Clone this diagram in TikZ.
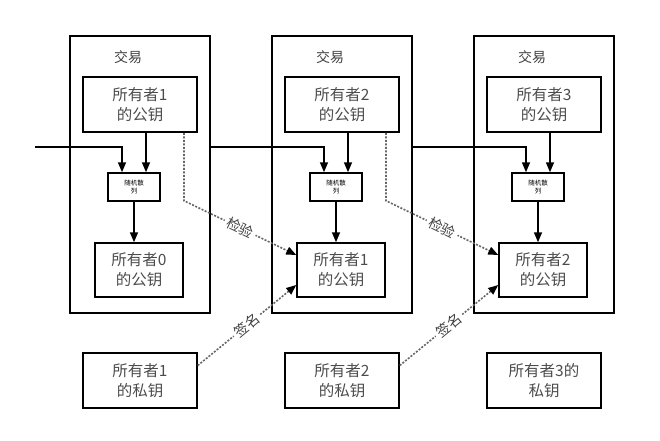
\documentclass[tikz,border=0pt]{standalone}
\usepackage{fontspec}
\setmainfont{Noto Sans CJK SC}
\usetikzlibrary{arrows.meta, positioning}

\tikzset{
	frame/.style={draw, line width=1.5pt, minimum width=140pt, minimum height=277pt, inner sep=0pt},
	keybox/.style={draw, line width=1.5pt, minimum width=114pt, minimum height=55pt, inner sep=0pt,
		align=center, text=black!70, font=\fontsize{15.5}{20}\selectfont},
	prevbox/.style={keybox, minimum width=88pt, minimum height=54pt},
	hashbox/.style={draw, line width=1.5pt, minimum width=52pt, minimum height=28pt, inner sep=0pt,
		align=center, font=\fontsize{6.5}{8}\selectfont},
	tag/.style={text=black!75, font=\fontsize{14}{16}\selectfont},
	flow/.style={line width=1.5pt, -{Triangle[length=10pt, width=8pt]}},
	check/.style={line width=1.6pt, black!60, dash pattern=on 2pt off 1.5pt,
		-{Triangle[length=10pt, width=8pt, black]}}
}

\begin{document}
\begin{tikzpicture}[x=1pt, y=-1pt] % one unit = one pixel, y runs downwards
	\useasboundingbox (0,0) rectangle (660,440);
	
	% the three transactions
	\foreach \i/\x/\own/\prv/\sec in {1/140/1/0/{所有者1\\的私钥}, 2/342/2/1/{所有者2\\的私钥}, 3/544/3/2/{所有者3的\\私钥}} {
		\node[frame] (tx\i) at (\x, 174.5) {};
		\node[tag] (lbl\i) at (\x-12, 57) {交易};
		\node[keybox] (pub\i) at (\x, 104.5) {所有者\own\\的公钥};
		\node[hashbox] (hash\i) at (\x-6, 187) {随机散\\列};
		\node[prevbox] (prev\i) at (\x-1, 270) {所有者\prv\\的公钥};
		\node[keybox] (priv\i) at (\x, 380.5) {\sec};
		
		\draw[flow] ([xshift=12pt]hash\i.north |- pub\i.south) -- ([xshift=12pt]hash\i.north);
		\draw[flow] (hash\i.south) -- (hash\i.south |- prev\i.north);
	}
	
	% chain of hashes
	\coordinate (in) at (35, 147);
	\draw[flow] (in) -| ([xshift=-12pt]hash1.north);
	\draw[flow] (tx1.east |- in) -| ([xshift=-12pt]hash2.north);
	\draw[flow] (tx2.east |- in) -| ([xshift=-12pt]hash3.north);
	
	% check and sign
	\foreach \a/\b in {1/2, 2/3} {
		\draw[check] ([xshift=44pt]pub\a.south) -- ++(0,68)
			-- node[tag, sloped, fill=white, inner sep=3pt] (chk\a) {检验} ([yshift=15pt]prev\b.west);
		\draw[check] ([yshift=15pt]priv\a.east)
			-- node[tag, sloped, fill=white, inner sep=3pt] (sig\a) {签名} ([yshift=-15pt]prev\b.west);
	}
\end{tikzpicture}
\end{document}
